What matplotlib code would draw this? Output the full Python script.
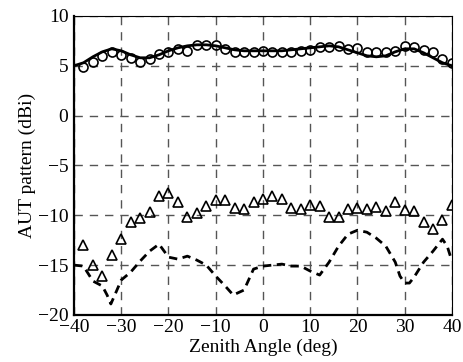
import matplotlib
matplotlib.use("Agg")
import matplotlib.pyplot as plt
import numpy as np

# Measured (circles) co-pol pattern
meas_x = list(range(-38, 41, 2))
meas_y = [4.9, 5.4, 6.0, 6.4, 6.1, 5.8, 5.4, 5.7, 6.2, 6.4,
          6.7, 6.5, 7.1, 7.1, 7.1, 6.7, 6.4, 6.4, 6.4, 6.5,
          6.4, 6.4, 6.4, 6.5, 6.6, 6.9, 6.9, 7.0, 6.7, 6.8,
          6.4, 6.4, 6.4, 6.5, 7.0, 6.9, 6.6, 6.4, 5.7, 5.3]

# Simulated co-pol (solid line)
sim_x = list(range(-40, 41, 2))
sim_y = [5.0, 5.3, 5.9, 6.4, 6.7, 6.5, 6.1, 5.8, 5.8, 6.1,
         6.5, 6.8, 7.0, 7.1, 7.1, 7.0, 6.8, 6.6, 6.5, 6.5,
         6.5, 6.5, 6.5, 6.6, 6.7, 6.8, 6.9, 7.0, 6.9, 6.6,
         6.3, 6.0, 5.9, 6.0, 6.4, 6.7, 6.7, 6.3, 5.8, 5.3, 5.0]

# Measured cross-pol (triangles)
xmeas_x = list(range(-38, 41, 2))
xmeas_y = [-13.0, -15.0, -16.1, -14.0, -12.4, -10.7, -10.3, -9.7, -8.1, -7.8,
           -8.7, -10.2, -9.8, -9.1, -8.5, -8.5, -9.3, -9.4, -8.7, -8.4,
           -8.1, -8.4, -9.3, -9.4, -9.0, -9.1, -10.2, -10.2, -9.4, -9.3,
           -9.4, -9.2, -9.6, -8.7, -9.5, -9.6, -10.7, -11.4, -10.5, -9.0]

# Simulated cross-pol (dashed line)
xsim_x = [-40, -38, -36, -34, -33, -32.2, -31, -30, -28, -26, -24, -22, -20,
          -18, -16, -14, -12, -10, -8, -6.3, -4, -2, 0, 2, 4, 6, 8, 10, 12,
          14, 16, 18, 20, 22, 24, 26, 28, 29, 30, 31, 32, 34, 36, 38, 39, 40]
xsim_y = [-15.0, -15.1, -16.6, -17.1, -18.0, -18.9, -17.6, -16.5, -15.7, -14.6,
          -13.6, -12.9, -14.2, -14.4, -14.1, -14.5, -15.0, -16.1, -17.1, -18.0,
          -17.5, -15.4, -15.1, -15.0, -14.9, -15.1, -15.1, -15.6, -16.0,
          -14.7, -13.1, -11.9, -11.5, -11.7, -12.3, -13.1, -14.7, -16.1,
          -16.8, -16.8, -16.2, -14.7, -13.6, -12.4, -13.1, -14.6]

xticks = [-40, -30, -20, -10, 0, 10, 20, 30, 40]
yticks = [-20, -15, -10, -5, 0, 5, 10]

plt.rcParams['font.family'] = ['Liberation Serif', 'DejaVu Serif']
plt.rcParams['font.size'] = 14

fig = plt.figure(figsize=(4.64, 3.62), dpi=100)
ax = fig.add_axes([0.1595, 0.130, 0.8145, 0.826])

ax.plot(sim_x, sim_y, color='black', lw=2.0, zorder=3)
ax.plot(meas_x, meas_y, linestyle='none', marker='o', ms=6.5, mfc='none',
        mec='black', mew=1.2, zorder=4)
ax.plot(xsim_x, xsim_y, color='black', lw=2.0, linestyle=(0, (3, 2)), zorder=3)
ax.plot(xmeas_x, xmeas_y, linestyle='none', marker='^', ms=7, mfc='none',
        mec='black', mew=1.2, zorder=4)

ax.set_xlim(-40, 40)
ax.set_ylim(-20, 10)
ax.set_xticks(xticks)
ax.set_yticks(yticks)
ax.grid(True, color='#555555', linestyle=(0, (6, 5)), linewidth=1.0)
ax.set_axisbelow(True)
ax.tick_params(direction='in', length=0, labelsize=14)
ax.tick_params(axis='x', pad=3)
ax.tick_params(axis='y', pad=4)

for side in ['left', 'bottom']:
    ax.spines[side].set_linewidth(1.6)
for side in ['top', 'right']:
    ax.spines[side].set_linewidth(0.8)

ax.set_xlabel('Zenith Angle (deg)', fontsize=14)
ax.xaxis.set_label_coords(0.5, -0.080)
ax.set_ylabel('AUT pattern (dBi)', fontsize=14)
ax.yaxis.set_label_coords(-0.10, 0.5)

fig.savefig('out.png', dpi=100)
